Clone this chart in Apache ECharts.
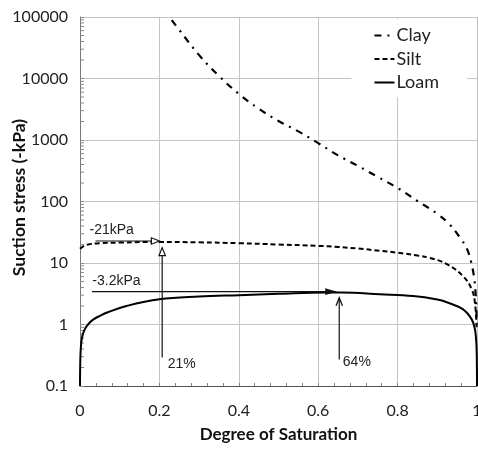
<!DOCTYPE html>
<html>
<head>
<meta charset="utf-8">
<script src="https://cdn.jsdelivr.net/npm/echarts@6/dist/echarts.min.js"></script>
<style>
html,body{margin:0;padding:0;background:#fff;}
#chart{width:478px;height:449px;}
</style>
</head>
<body>
<div id="chart"></div>
<script>
// ---- data ----
const seriesNames = ['Clay', 'Silt', 'Loam'];

const satClay = [0.231, 0.25, 0.3, 0.35, 0.4, 0.45, 0.5, 0.55, 0.6, 0.65, 0.7, 0.75, 0.8, 0.85, 0.9, 0.93, 0.957, 0.974, 0.985, 0.993, 0.997, 0.9995];
const clay    = [89000, 61700, 24000, 11000, 5620, 3240, 2040, 1380, 890, 562, 380, 251, 166, 102, 63, 43, 26, 17.4, 10.5, 5.6, 2.8, 1.0];

const satSilt = [0, 0.01, 0.02, 0.05, 0.1, 0.2, 0.3, 0.4, 0.5, 0.6, 0.65, 0.7, 0.755, 0.8, 0.85, 0.881, 0.924, 0.965, 0.987, 0.995, 0.999];
const silt    = [17, 19, 20, 21, 21.5, 22, 21.7, 21, 20, 19, 18.2, 17.2, 15.8, 14.7, 13.2, 12.1, 9.6, 6.1, 3.7, 2.2, 0.9];

const satLoam = [0, 0.001, 0.003, 0.006, 0.01, 0.015, 0.024, 0.035, 0.049, 0.07, 0.117, 0.2, 0.3, 0.4, 0.5, 0.62, 0.66, 0.755, 0.839, 0.9, 0.924, 0.965, 0.987, 0.995, 0.999, 1];
const loam    = [0.1, 0.3, 0.5, 0.65, 0.78, 0.9, 1.07, 1.22, 1.37, 1.58, 2.0, 2.57, 2.85, 3.0, 3.15, 3.3, 3.3, 3.1, 2.9, 2.55, 2.3, 1.76, 1.2, 0.83, 0.4, 0.1];

const yTickValues = [0.1, 1, 10, 100, 1000, 10000, 100000];
const yTickLabels = ['0.1', '1', '10', '100', '1000', '10000', '100000'];
const xTickLabels = ['0', '0.2', '0.4', '0.6', '0.8', '1'];

// annotation arrows (data space): from -> to
const arrowFromX = [0.039, 0.207, 0.030, 0.653];
const arrowFromY = [22.8, 0.29, 3.42, 0.27];
const arrowToX   = [0.200, 0.207, 0.642, 0.653];
const arrowToY   = [22.8, 17.8, 3.42, 2.73];
const arrowHeads = ['open', 'open', 'filled', 'vee'];

// annotation texts (data space)
const noteText = ['-21kPa', '-3.2kPa', '21%', '64%'];
const noteX    = [0.024, 0.031, 0.221, 0.662];
const noteY    = [34, 5.0, 0.225, 0.24];

// minor log ticks 2..9 per decade
const minorVals = [];
for (let d = -1; d < 5; d++) for (let m = 2; m <= 9; m++) minorVals.push(+(m * Math.pow(10, d)).toPrecision(6));

// ---- chart ----
const chart = echarts.init(document.getElementById('chart'));
const zip = (a, b) => a.map((v, i) => [v, b[i]]);

function renderArrow(params, api) {
  const i = params.dataIndex;
  const p1 = api.coord([api.value(0), api.value(1)]);
  const p2 = api.coord([api.value(2), api.value(3)]);
  const dx = p2[0] - p1[0], dy = p2[1] - p1[1];
  const len = Math.sqrt(dx * dx + dy * dy);
  const ux = dx / len, uy = dy / len, nx = -uy, ny = ux;
  const type = arrowHeads[i];
  const hl = type === 'filled' ? 9 : 8;
  const hw = type === 'filled' ? 2.5 : 3.2;
  const base = [p2[0] - ux * hl, p2[1] - uy * hl];
  const children = [{
    type: 'line',
    shape: { x1: p1[0], y1: p1[1], x2: type === 'open' ? base[0] : p2[0], y2: type === 'open' ? base[1] : p2[1] },
    style: { stroke: '#111', lineWidth: 1.2 }
  }];
  if (type === 'vee') {
    children.push({
      type: 'polyline',
      shape: { points: [[base[0] + nx * hw, base[1] + ny * hw], p2, [base[0] - nx * hw, base[1] - ny * hw]] },
      style: { stroke: '#111', lineWidth: 1.3, fill: null }
    });
  } else {
    children.push({
      type: 'polygon',
      shape: { points: [p2, [base[0] + nx * hw, base[1] + ny * hw], [base[0] - nx * hw, base[1] - ny * hw]] },
      style: { stroke: '#111', lineWidth: 1.2, fill: type === 'open' ? '#fff' : '#111' }
    });
  }
  return { type: 'group', children };
}

function renderNote(params, api) {
  const i = params.dataIndex;
  const p = api.coord([api.value(0), api.value(1)]);
  return {
    type: 'text',
    x: p[0], y: p[1],
    style: { text: noteText[i], fill: '#222', font: '14px "Liberation Sans", Arial, sans-serif', align: 'left', verticalAlign: 'middle' }
  };
}

function renderMinor(params, api) {
  const p = api.coord([0, api.value(1)]);
  return { type: 'line', shape: { x1: p[0], y1: p[1], x2: p[0] + 4, y2: p[1] }, style: { stroke: '#888', lineWidth: 1 } };
}

chart.setOption({
  animation: false,
  backgroundColor: '#fff',
  grid: { left: 80, right: 1, top: 17, bottom: 63, containLabel: false, outerBoundsMode: 'none' },
  legend: {
    data: seriesNames,
    orient: 'vertical',
    right: 11, top: 19,
    padding: [6, 28, 4, 22],
    itemWidth: 20, itemHeight: 14, itemGap: 2.5,
    backgroundColor: '#fff',
    itemStyle: { color: 'rgba(0,0,0,0)', borderWidth: 0, opacity: 0 },
    textStyle: { fontFamily: 'Lato', fontSize: 18, lineHeight: 21, color: '#222', padding: [0, 0, 0, -3] }
  },
  xAxis: {
    type: 'value', min: 0, max: 1, interval: 0.2,
    name: 'Degree of Saturation', nameLocation: 'middle', nameGap: 40, nameMoveOverlap: false,
    nameTextStyle: { fontFamily: 'Lato', fontWeight: 'bold', fontSize: 17, color: '#111' },
    axisLine: { show: true, lineStyle: { color: '#555', width: 1 } },
    axisTick: { show: true, inside: true, length: 3, lineStyle: { color: '#888' } },
    minorTick: { show: true, splitNumber: 5, length: 3, lineStyle: { color: '#888' } },
    splitLine: { show: true, lineStyle: { color: '#c4c4c4', width: 1 } },
    axisLabel: { fontFamily: 'Lato', fontSize: 16, color: '#222', margin: 17,
      formatter: v => xTickLabels[Math.round(v / 0.2)] }
  },
  yAxis: {
    type: 'log', logBase: 10, min: 0.1, max: 100000,
    name: 'Suction stress (-kPa)', nameLocation: 'middle', nameGap: 52, nameMoveOverlap: false,
    nameTextStyle: { fontFamily: 'Lato', fontWeight: 'bold', fontSize: 17.5, color: '#111', padding: [0, 0, 0, 8] },
    axisLine: { show: true, lineStyle: { color: '#777', width: 1 } },
    axisTick: { show: true, inside: true, length: 4, lineStyle: { color: '#888' } },
    splitLine: { show: true, lineStyle: { color: '#c4c4c4', width: 1 } },
    axisLabel: { fontFamily: 'Lato', fontSize: 16, color: '#222', margin: 12,
      formatter: v => { const k = yTickValues.findIndex(t => Math.abs(Math.log10(t) - Math.log10(v)) < 1e-6); return k >= 0 ? yTickLabels[k] : ''; } }
  },
  series: [
    { name: 'Clay', type: 'line', data: zip(satClay, clay), showSymbol: false, symbol: 'none',
      smooth: 0.4,
      lineStyle: { color: '#000', width: 2.2, type: [7, 6, 2, 6] }, itemStyle: { color: '#000' }, z: 3 },
    { name: 'Silt', type: 'line', data: zip(satSilt, silt), showSymbol: false, symbol: 'none',
      smooth: 0.4,
      lineStyle: { color: '#000', width: 2, type: [5, 3] }, itemStyle: { color: '#000' }, z: 3 },
    { name: 'Loam', type: 'line', data: zip(satLoam, loam), showSymbol: false, symbol: 'none',
      smooth: 0.4,
      lineStyle: { color: '#000', width: 2 }, itemStyle: { color: '#000' }, z: 3 },
    { name: 'minorTicks', type: 'custom', renderItem: renderMinor, data: minorVals.map(v => [0, v]),
      encode: { x: 0, y: 1 }, silent: true, z: 2, clip: false },
    { name: 'arrows', type: 'custom', renderItem: renderArrow,
      data: arrowFromX.map((v, i) => [v, arrowFromY[i], arrowToX[i], arrowToY[i]]),
      encode: { x: [0, 2], y: [1, 3] }, silent: true, z: 5, clip: false },
    { name: 'notes', type: 'custom', renderItem: renderNote, data: zip(noteX, noteY),
      encode: { x: 0, y: 1 }, silent: true, z: 5, clip: false }
  ]
});
</script>
</body>
</html>
